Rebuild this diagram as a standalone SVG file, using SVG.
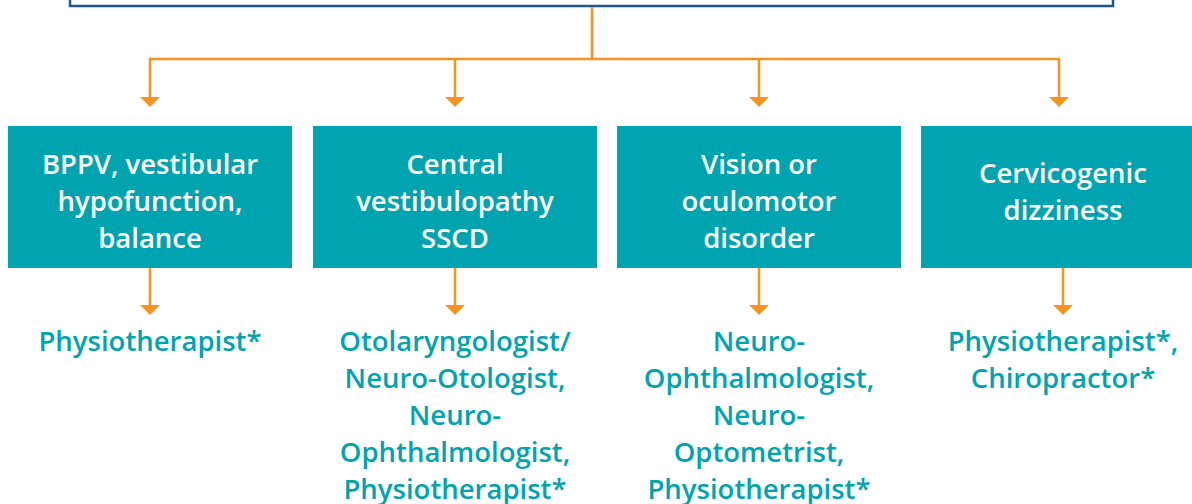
<svg xmlns="http://www.w3.org/2000/svg" width="1192" height="504" viewBox="0 0 1192 504">
<style>
.box{fill:#00A3B0}
.bt{font-family:"Open Sans","Liberation Sans",sans-serif;font-weight:600;font-size:27.5px;fill:#ffffff;text-anchor:middle}
.lt{font-family:"Open Sans","Liberation Sans",sans-serif;font-weight:600;font-size:27.5px;fill:#00A3B0;text-anchor:middle}
.con{fill:none;stroke:#F7931E;stroke-width:2.5}
.ah{fill:#F7931E}
</style>
<g id="top">
<rect x="70" y="-50" width="1043" height="56" fill="#ffffff" stroke="#1F5596" stroke-width="2.5"/>
</g>
<g id="connectors">
<path class="con" d="M592,7 V59"/>
<path class="con" d="M150,98 V59 H1059 V98"/>
<path class="con" d="M455,59 V98"/>
<path class="con" d="M759,59 V98"/>
<polygon class="ah" points="140,97 160,97 150,107"/>
<polygon class="ah" points="445,97 465,97 455,107"/>
<polygon class="ah" points="749,97 769,97 759,107"/>
<polygon class="ah" points="1049,97 1069,97 1059,107"/>
<path class="con" d="M150,268 V306"/>
<path class="con" d="M455,268 V306"/>
<path class="con" d="M759,268 V306"/>
<path class="con" d="M1063,268 V306"/>
<polygon class="ah" points="140,305 160,305 150,315"/>
<polygon class="ah" points="445,305 465,305 455,315"/>
<polygon class="ah" points="749,305 769,305 759,315"/>
<polygon class="ah" points="1053,305 1073,305 1063,315"/>
</g>
<g id="n1">
<rect class="box" x="8" y="126" width="284" height="142"/>
<text class="bt" x="150" y="174">BPPV, vestibular</text>
<text class="bt" x="150" y="211">hypofunction,</text>
<text class="bt" x="150" y="248">balance</text>
</g>
<g id="n2">
<rect class="box" x="313" y="126" width="284" height="142"/>
<text class="bt" x="455" y="174">Central</text>
<text class="bt" x="455" y="211">vestibulopathy</text>
<text class="bt" x="455" y="248">SSCD</text>
</g>
<g id="n3">
<rect class="box" x="617" y="126" width="284" height="142"/>
<text class="bt" x="759" y="174">Vision or</text>
<text class="bt" x="759" y="211">oculomotor</text>
<text class="bt" x="759" y="248">disorder</text>
</g>
<g id="n4">
<rect class="box" x="921" y="126" width="284" height="142"/>
<text class="bt" x="1063" y="183">Cervicogenic</text>
<text class="bt" x="1063" y="220">dizziness</text>
</g>
<g id="l1">
<text class="lt" x="150" y="351">Physiotherapist*</text>
</g>
<g id="l2">
<text class="lt" x="455" y="351">Otolaryngologist/</text>
<text class="lt" x="455" y="388">Neuro-Otologist,</text>
<text class="lt" x="455" y="425">Neuro-</text>
<text class="lt" x="455" y="462">Ophthalmologist,</text>
<text class="lt" x="455" y="499">Physiotherapist*</text>
</g>
<g id="l3">
<text class="lt" x="759" y="351">Neuro-</text>
<text class="lt" x="759" y="388">Ophthalmologist,</text>
<text class="lt" x="759" y="425">Neuro-</text>
<text class="lt" x="759" y="462">Optometrist,</text>
<text class="lt" x="759" y="499">Physiotherapist*</text>
</g>
<g id="l4">
<text class="lt" x="1063" y="351">Physiotherapist*,</text>
<text class="lt" x="1063" y="388">Chiropractor*</text>
</g>
</svg>
